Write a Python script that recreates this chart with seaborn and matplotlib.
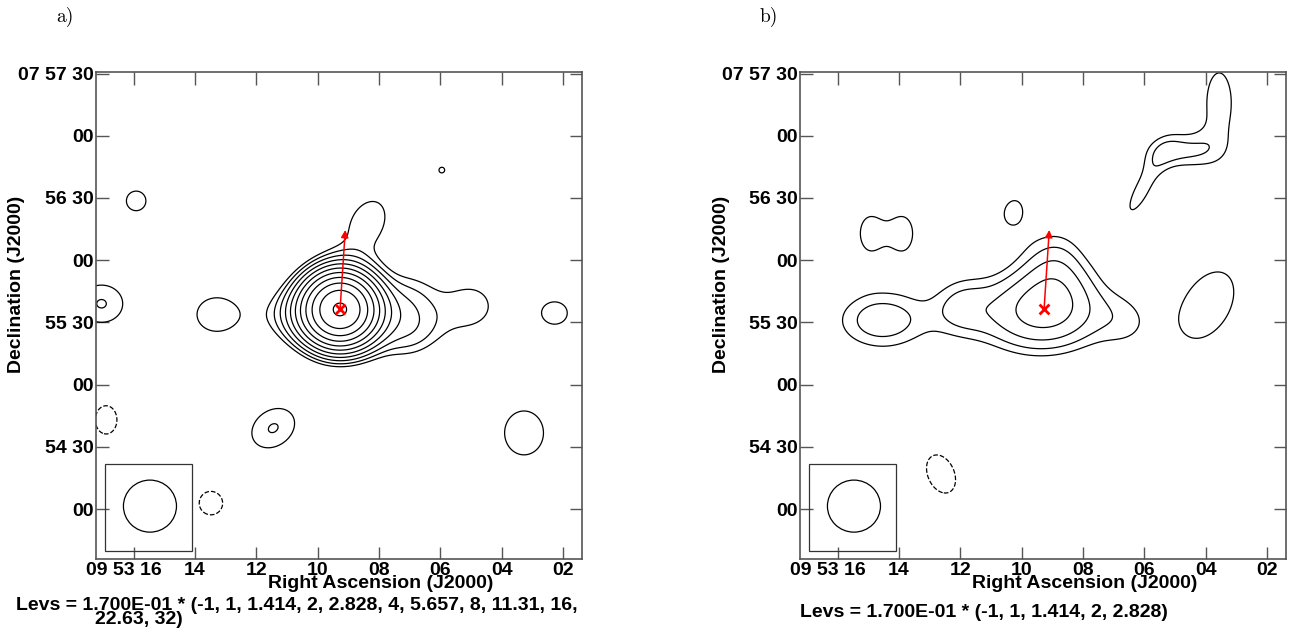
import numpy as np
import matplotlib
matplotlib.use("Agg")
import matplotlib.pyplot as plt
from matplotlib.patches import Ellipse, Rectangle
from matplotlib.transforms import ScaledTranslation
import seaborn as sns

W, H = 1297, 642

# ---------------- data ----------------
ra_ticks = [16, 14, 12, 10, 8, 6, 4, 2]
ra_ticklabels = ["09 53 16", "14", "12", "10", "08", "06", "04", "02"]
dec_ticks = [0, 30, 60, 90, 120, 150, 180, 210]          # arcsec offset from +07 54 00
dec_ticklabels = ["00", "54 30", "00", "55 30", "00", "56 30", "00", "07 57 30"]

base_level = 0.17
levs_a = [-1, 1, 1.414, 2, 2.828, 4, 5.657, 8, 11.31, 16, 22.63, 32]
levs_b = [-1, 1, 1.414, 2, 2.828]

# source components, panel a (RA seconds, Dec arcsec, amplitude, sigma along / across axis, axis angle deg)
a_ra   = [9.27, 9.47, 7.0, 5.0, 8.38, 15.92, 5.94, 17.05, 13.33, 2.25, 16.9, 11.45, 13.48, 3.27, 7.0]
a_dec  = [96.5, 93.5, 96, 98, 138, 148.6, 163.5, 99, 93.8, 94.5, 43, 39, 2.9, 36.7, 82]
a_amp  = [5.2, 0.5, 0.22, 0.2, 0.215, 0.19, 0.1705, 0.245, 0.23, 0.2, -0.195, 0.245, -0.2, 0.23, 0.1]
a_siga = [10.6, 20, 10, 14, 16, 10, 8, 12, 11.3, 10, 13, 13, 10, 13.6, 14]
a_sigb = [10.4, 10, 14, 13, 11, 10, 8, 10.5, 9.8, 9, 10, 10, 10, 12.1, 8]
a_ang  = [0, 0, 0, 0, 62, 0, 0, 0, 0, 0, 90, 35, 0, 90, 15]

# source components, panel b
b_ra   = [9.4, 8.9, 6.6, 12.0, 14.55, 4.84, 3.56, 6.10, 10.31, 14.98, 13.84, 3.94, 12.63, 14.4]
b_dec  = [95, 117, 90, 98, 91, 172.6, 196, 153.4, 144, 133, 133, 98.4, 16.9, 53.7]
b_amp  = [0.52, 0.24, 0.11, 0.17, 0.3, 0.24, 0.21, 0.2, 0.18, 0.2, 0.2, 0.22, -0.2, 0.1705]
b_siga = [22, 12, 10, 10, 18, 13, 9, 17.5, 11, 7, 7, 24, 16.9, 8]
b_sigb = [14, 15, 12, 11, 11.6, 7, 22, 5.3, 8, 12, 12, 15, 11.2, 8]
b_ang  = [0, 0, 0, 0, 0, 0, 0, 62, 70, 0, 0, 60, 114, 0]

target_ra, target_dec = 9.27, 96.3
arrow_ra, arrow_dec = 9.10, 134.6
beam_ra, beam_dec, beam_w, beam_h = 15.47, 1.4, 1.73, 25.1
box_ra0, box_ra1, box_dec0, box_dec1 = 14.10, 16.94, -20.3, 21.7

xlim = (17.246, 1.396)
ylim = (-24.1, 211.0)
RA_AS = 15 * np.cos(np.deg2rad(7.92))   # arcsec per RA second

# ---------------- style ----------------
sns.set_style("ticks")
plt.rcParams["font.family"] = ["Liberation Sans", "DejaVu Sans"]
plt.rcParams["font.weight"] = "bold"
plt.rcParams["text.color"] = "black"
plt.rcParams["xtick.labelcolor"] = "black"
plt.rcParams["ytick.labelcolor"] = "black"
FS = 14


def make_field(ras, decs, amps, sas, sbs, angs):
    gx = np.linspace(17.8, 0.8, 600)
    gy = np.linspace(-35, 225, 600)
    RA, DEC = np.meshgrid(gx, gy)
    Z = np.zeros_like(RA)
    for r0, d0, A, s1, s2, t in zip(ras, decs, amps, sas, sbs, angs):
        du = -(RA - r0) * RA_AS
        dv = DEC - d0
        th = np.deg2rad(t)
        a = du * np.cos(th) + dv * np.sin(th)
        b = -du * np.sin(th) + dv * np.cos(th)
        Z += A * np.exp(-0.5 * ((a / s1) ** 2 + (b / s2) ** 2))
    return RA, DEC, Z


fig = plt.figure(figsize=(W / 100, H / 100), dpi=100)
fig.patch.set_facecolor("white")


def fx(px):
    return px / W


def fy(py):
    return 1 - py / H


panels = [
    (95.5, levs_a, (a_ra, a_dec, a_amp, a_siga, a_sigb, a_ang), "a)"),
    (799.5, levs_b, (b_ra, b_dec, b_amp, b_siga, b_sigb, b_ang), "b)"),
]

for left_px, levs, comps, tag in panels:
    off = left_px - 95.5
    ax = fig.add_axes([fx(left_px), (H - 559) / H, 486 / W, 487.5 / H])
    ax.set_facecolor("white")
    RA, DEC, Z = make_field(*comps)
    lv = [base_level * l for l in levs]
    ls = ["dashed" if l < 0 else "solid" for l in lv]
    ax.contour(RA, DEC, Z, levels=lv, colors="black", linewidths=0.9, linestyles=ls)

    ax.set_xlim(*xlim)
    ax.set_ylim(*ylim)
    ax.set_xticks(ra_ticks)
    ax.set_xticklabels(ra_ticklabels, fontsize=FS, fontweight="bold")
    ax.set_yticks(dec_ticks)
    ax.set_yticklabels(dec_ticklabels, fontsize=FS, fontweight="bold")
    ax.tick_params(axis="both", which="both", direction="in", length=9, width=1.0,
                   color="#555555", top=True, right=True, labelcolor="black")
    ax.tick_params(axis="x", pad=2)
    ax.tick_params(axis="y", pad=1)
    for s in ax.spines.values():
        s.set_color("#555555")
        s.set_linewidth(1.2)
    lab0 = ax.get_xticklabels()[0]
    lab0.set_transform(lab0.get_transform() + ScaledTranslation(-10 / 100, 0, fig.dpi_scale_trans))
    ax.set_xlabel("")
    ax.set_ylabel("")

    # beam
    ax.add_patch(Rectangle((box_ra0, box_dec0), box_ra1 - box_ra0, box_dec1 - box_dec0,
                           fill=False, edgecolor="#333333", linewidth=0.9))
    ax.add_patch(Ellipse((beam_ra, beam_dec), beam_w, beam_h, fill=False,
                         edgecolor="black", linewidth=0.9))

    # target and arrow
    ax.annotate("", xy=(arrow_ra, arrow_dec), xytext=(target_ra, target_dec),
                arrowprops=dict(arrowstyle="-|>", color="red", lw=1.1,
                                mutation_scale=11, shrinkA=0, shrinkB=0))
    sns.scatterplot(x=[target_ra], y=[target_dec], marker="x", s=50, color="red",
                    linewidth=2.0, ax=ax, legend=False, zorder=5)

    fig.text(fx(381 + off), fy(583), "Right Ascension (J2000)", ha="center", va="center",
             fontsize=FS, fontweight="bold")
    fig.text(fx(17 + off), fy(284), "Declination (J2000)", ha="center", va="center",
             rotation=90, fontsize=FS, fontweight="bold")
    fig.text(fx(65 + off), fy(17), tag, ha="center", va="center", fontsize=14,
             family="cmr10")

levs_txt_a1 = "Levs = 1.700E-01 * (" + ", ".join(f"{v:g}" for v in levs_a[:10]) + ","
levs_txt_a2 = ", ".join(f"{v:g}" for v in levs_a[10:]) + ")"
levs_txt_b = "Levs = 1.700E-01 * (" + ", ".join(f"{v:g}" for v in levs_b) + ")"
fig.text(fx(16), fy(605), levs_txt_a1, ha="left", va="center", fontsize=FS, fontweight="bold")
fig.text(fx(95), fy(620), levs_txt_a2, ha="left", va="center", fontsize=FS, fontweight="bold")
fig.text(fx(799.5), fy(612.7), levs_txt_b, ha="left", va="center", fontsize=FS, fontweight="bold")

fig.savefig("out.png", dpi=100, facecolor="white")
